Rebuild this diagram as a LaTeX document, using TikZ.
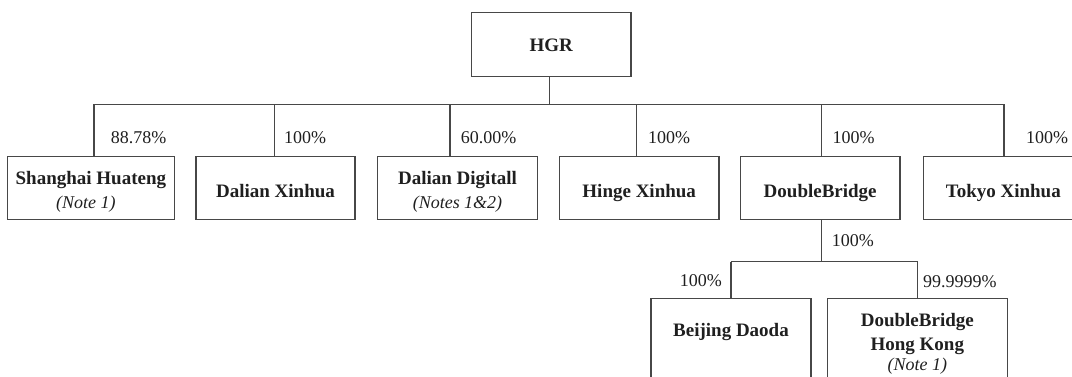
\documentclass[tikz,border=0pt]{standalone}
\usepackage{fontspec}
\setmainfont{Liberation Serif}
\begin{document}
\begin{tikzpicture}[x=1pt,y=-1pt,
  line/.style={draw=black!72,line width=1.1pt},
  box/.style={line,rectangle,inner sep=0pt,minimum height=63.5pt,
    text=black!88,font=\fontsize{19}{24}\selectfont\bfseries},
  oneline/.style={text height=22.6pt,text depth=5pt},
  twoline/.style={text height=14pt,text depth=20.4pt},
  pct/.style={inner sep=0pt,text=black!88,font=\fontsize{18}{20}\selectfont},
]
\path[use as bounding box] (0,0) rectangle (1072,377);
\clip (0,0) rectangle (1072,377);
\newcommand{\nt}[1]{{\fontsize{18}{24}\selectfont\mdseries\itshape #1}}
\newcommand{\stk}[1]{\begin{tabular}[t]{@{}c@{}}#1\end{tabular}}
% top
\node[box,minimum width=159.5pt,text height=14.2pt,text depth=0pt] (hgr) at (551.2,44.6) {HGR};
% first row
\node[box,twoline,minimum width=167pt] (sh) at (90.9,188.2) {\stk{Shanghai Huateng\\\hspace*{-10pt}\nt{(Note 1)}}};
\node[box,oneline,minimum width=159pt] (dx) at (275.5,188.2) {Dalian Xinhua};
\node[box,twoline,minimum width=160pt] (dd) at (457.5,188.2) {\stk{Dalian Digitall\\\nt{(Notes 1\&2)}}};
\node[box,oneline,minimum width=159.5pt] (hx) at (639.2,188.2) {Hinge Xinhua};
\node[box,oneline,minimum width=159.5pt] (db) at (820.2,188.2) {DoubleBridge};
\node[box,oneline,minimum width=160pt] (tx) at (1003.3,188.2) {Tokyo Xinhua};
% second row
\node[box,minimum width=160pt,minimum height=100pt,text height=14pt,text depth=38.4pt] (bj) at (731,348.5) {Beijing Daoda};
\node[box,minimum width=180pt,minimum height=100pt,text height=14pt,text depth=57.6pt] (hk) at (917.3,348.5) {\stk{DoubleBridge\\Hong Kong\\[-4pt]\nt{(Note 1)}}};
% connectors
\coordinate (bar) at (549.3,104.5);
\coordinate (b1) at (94,104.5);
\coordinate (b2) at (274.6,104.5);
\coordinate (b3) at (450,104.5);
\coordinate (b4) at (636.7,104.5);
\coordinate (b5) at (821.2,104.5);
\coordinate (b6) at (1004,104.5);
\draw[line] (hgr.south -| bar) -- (bar);
\draw[line] (b1) -- (b6);
\draw[line] (b1) -- (b1 |- sh.north);
\draw[line] (b2) -- (b2 |- dx.north);
\draw[line] (b3) -- (b3 |- dd.north);
\draw[line] (b4) -- (b4 |- hx.north);
\draw[line] (b5) -- (b5 |- db.north);
\draw[line] (b6) -- (b6 |- tx.north);
\coordinate (s0) at (821.2,261.7);
\coordinate (s1) at (731,261.7);
\coordinate (s2) at (917.5,261.7);
\draw[line] (db.south -| s0) -- (s0);
\draw[line] (s1) -- (s2);
\draw[line] (s1) -- (s1 |- bj.north);
\draw[line] (s2) -- (s2 |- hk.north);
% percentages
\node[pct,anchor=base west] (p1) at (110.7,143.8) {88.78\%};
\node[pct,anchor=base west] (p2) at (284,143.8) {100\%};
\node[pct,anchor=base west] (p3) at (460.7,143.8) {60.00\%};
\node[pct,anchor=base west] (p4) at (648,143.8) {100\%};
\node[pct,anchor=base west] (p5) at (832.5,143.8) {100\%};
\node[pct,anchor=base west] (p6) at (1026,143.8) {100\%};
\node[pct,anchor=base west] (p7) at (831.7,246.8) {100\%};
\node[pct,anchor=base east] (p8) at (722,286.3) {100\%};
\node[pct,anchor=base west] (p9) at (923,287.5) {99.9999\%};
\end{tikzpicture}
\end{document}
